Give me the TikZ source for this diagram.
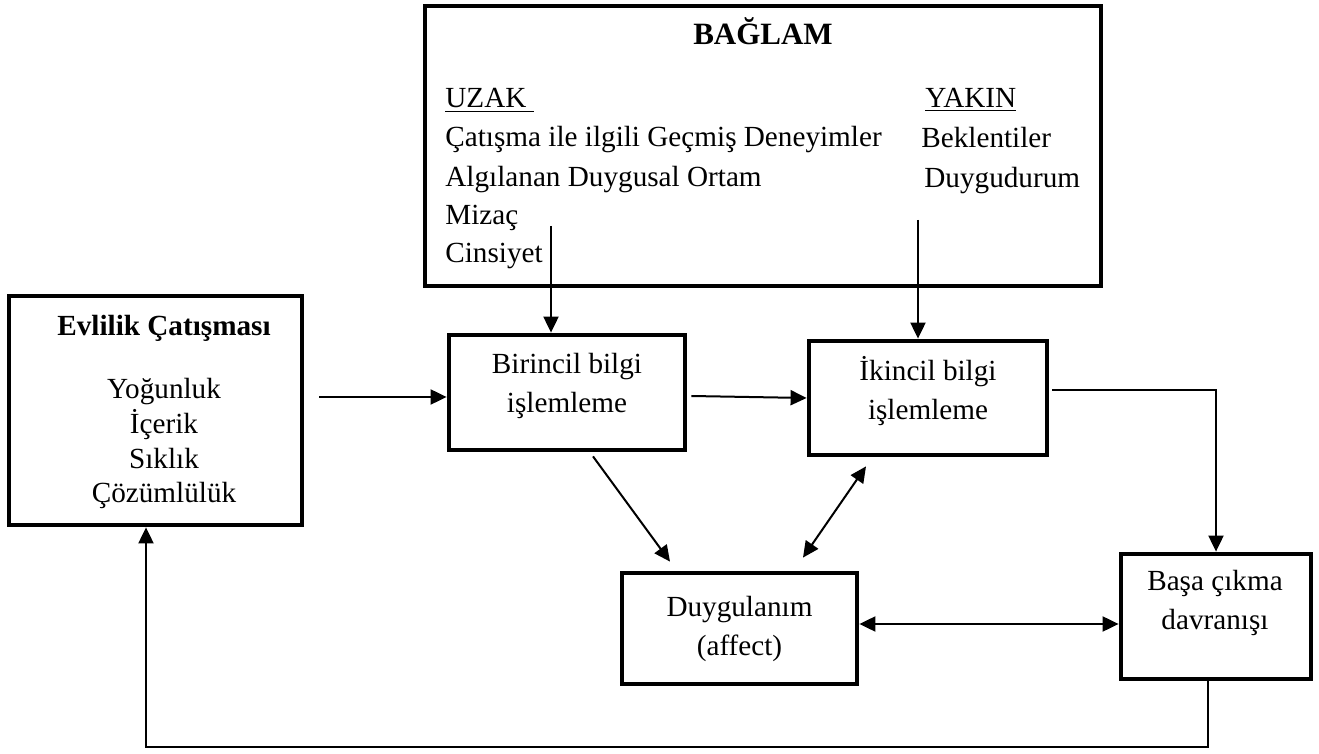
\documentclass[tikz,border=0pt]{standalone}
\usepackage{fontspec}
\setmainfont{Liberation Serif}
\usetikzlibrary{arrows.meta}
\begin{document}
\begin{tikzpicture}[x=0.5pt,y=-0.5pt,>={Triangle[length=8pt,width=7.5pt]},
		font=\fontsize{14.6}{19.5}\selectfont,
		kutu/.style={draw,line width=2.4pt,inner sep=0pt},
		yazi/.style={align=center,inner sep=0pt},
		satir/.style={anchor=base west,inner sep=0pt},
		ok/.style={->,line width=1pt},
		ciftok/.style={<->,line width=1pt}]
	\useasboundingbox (0,0) rectangle (1319,754);
	\node[kutu,minimum width=338pt,minimum height=140pt] (baglam) at (763,146) {};
	\node[anchor=base,inner sep=0pt,font=\fontsize{15.5}{19.5}\selectfont\bfseries] (baslik) at (763,45) {BAĞLAM};
	\node[satir] (uzak) at (445,108) {\underline{UZAK\ }};
	\node[satir] (uzak1) at (445,147) {Çatışma ile ilgili Geçmiş Deneyimler};
	\node[satir] (uzak2) at (445,187) {Algılanan Duygusal Ortam};
	\node[satir] (uzak3) at (445,225) {Mizaç};
	\node[satir] (uzak4) at (445,263) {Cinsiyet};
	\node[satir] (yakin) at (925,108) {\underline{YAKIN}};
	\node[satir] (yakin1) at (921,148) {Beklentiler};
	\node[satir] (yakin2) at (924,188) {Duygudurum};
	\coordinate (uzakcikis) at (551,226);
	\coordinate (yakincikis) at (918,220);
	\node[kutu,minimum width=146.5pt,minimum height=114.5pt] (evlilik) at (155.5,410.5) {};
	\node[yazi,font=\fontsize{14.6}{17.3}\selectfont] (evlilikyazi) at (164,412) {\textbf{Evlilik Çatışması}\\[14.5pt]Yoğunluk\\İçerik\\Sıklık\\Çözümlülük};
	\node[kutu,minimum width=118pt,minimum height=57.5pt] (birincil) at (567,392.5) {};
	\node[yazi] (birincilyazi) at (567,386) {Birincil bilgi\\işlemleme};
	\node[kutu,minimum width=119pt,minimum height=57pt] (ikincil) at (928,398) {};
	\node[yazi] (ikincilyazi) at (928,391.5) {İkincil bilgi\\işlemleme};
	\node[kutu,minimum width=117.5pt,minimum height=55.5pt] (duygu) at (739.5,628.5) {};
	\node[yazi] (duyguyazi) at (739.5,629) {Duygulanım\\(affect)};
	\node[kutu,minimum width=95pt,minimum height=62.5pt] (basa) at (1216,616.5) {};
	\node[yazi] (basayazi) at (1215,603) {Başa çıkma\\davranışı};
	\coordinate (evlilikcikis) at (319,397);
	\draw[ok] (uzakcikis) -- (uzakcikis |- birincil.north);
	\draw[ok] (yakincikis) -- (yakincikis |- ikincil.north);
	\draw[ok] (evlilikcikis) -- (evlilikcikis -| birincil.west);
	\draw[ok] ([xshift=2pt,yshift=-1.75pt]birincil.east) -- (ikincil.west);
	\draw[ok] ([xshift=13pt,yshift=-2pt]birincil.south) -- ([xshift=-34.75pt,yshift=4.5pt]duygu.north);
	\draw[ciftok] ([xshift=-31pt,yshift=-4.5pt]ikincil.south) -- ([xshift=31.75pt,yshift=6.5pt]duygu.north);
	\draw[ciftok] ([yshift=2.25pt]duygu.east) -- ([yshift=-3.75pt]basa.west);
	\draw[ok] ([xshift=1.5pt,yshift=4pt]ikincil.east) -| (basa.north);
	\draw[ok] ([xshift=-4pt]basa.south) -- ++(0,66) -| ([xshift=-4.75pt]evlilik.south);
\end{tikzpicture}
\end{document}
